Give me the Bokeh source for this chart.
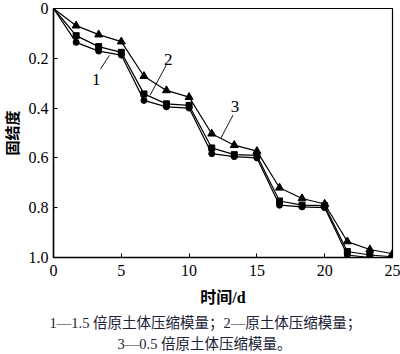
from bokeh.plotting import figure
from bokeh.models import Range1d, FixedTicker, Title
from bokeh.embed import file_html
from bokeh.resources import INLINE
from bokeh.core.properties import value

# Data
days = [0, 1.67, 3.33, 5, 6.67, 8.33, 10, 11.67, 13.33, 15, 16.67, 18.33, 20, 21.67, 23.33, 25]
s1_15x = [0, 0.136, 0.171, 0.187, 0.369, 0.395, 0.400, 0.583, 0.595, 0.600, 0.790, 0.797, 0.800, 0.990, 1.0, 1.0]
s2_1x = [0, 0.109, 0.153, 0.176, 0.343, 0.383, 0.389, 0.560, 0.587, 0.590, 0.773, 0.790, 0.792, 0.976, 0.990, 0.997]
s3_05x = [0, 0.069, 0.105, 0.133, 0.272, 0.329, 0.356, 0.503, 0.549, 0.573, 0.720, 0.763, 0.785, 0.936, 0.968, 0.985]

x_ticks = [0, 5, 10, 15, 20, 25]
y_ticks = [0, 0.2, 0.4, 0.6, 0.8, 1.0]
y_tick_labels = ["0", "0.2", "0.4", "0.6", "0.8", "1.0"]

x_label = "时间/d"
y_label = "固结度"
caption1 = "1—1.5 倍原土体压缩模量；2—原土体压缩模量；"
caption2 = "3—0.5 倍原土体压缩模量。"

# annotation callouts: (label, label x, label y, leader x0, y0, x1, y1)
callouts = [
    ("1", 3.16, 0.284, 3.46, 0.244, 4.12, 0.188),
    ("2", 8.46, 0.204, 8.31, 0.228, 7.13, 0.348),
    ("3", 13.38, 0.392, 13.24, 0.428, 12.35, 0.52),
]

SERIF = value("Liberation Serif")
MIXED = "'Liberation Serif', 'Noto Sans CJK SC'"

p = figure(width=400, height=354, output_backend="svg", toolbar_location=None,
           x_range=Range1d(0, 25), y_range=Range1d(1.0, 0),
           min_border_left=53, min_border_right=8, min_border_top=8, min_border_bottom=96)
p.background_fill_color = "white"
p.border_fill_color = "white"
p.outline_line_color = "black"
p.outline_line_width = 1.2
p.grid.visible = False

for ax in (p.xaxis[0], p.yaxis[0]):
    ax.axis_line_color = "black"
    ax.axis_line_width = 1.5
    ax.major_tick_line_color = "black"
    ax.major_tick_in = 4
    ax.major_tick_out = 0
    ax.minor_tick_line_color = None
    ax.major_label_text_font = "Liberation Serif"
    ax.major_label_text_font_size = "16px"
    ax.major_label_text_color = "black"
    ax.axis_label_text_color = "black"
    ax.axis_label_text_font = MIXED
    ax.axis_label_text_font_style = "bold"

p.xaxis.ticker = FixedTicker(ticks=x_ticks)
p.yaxis.ticker = FixedTicker(ticks=y_ticks)
p.yaxis.major_label_overrides = {t: s for t, s in zip(y_ticks, y_tick_labels)}
p.xaxis.major_label_standoff = 7
p.yaxis.major_label_standoff = 5
p.xaxis.axis_label = x_label
p.xaxis.axis_label_text_font_size = "16px"
p.xaxis.axis_label_standoff = 10
p.yaxis.axis_label = y_label
p.yaxis.axis_label_text_font_size = "15px"
p.yaxis.axis_label_standoff = 5

# series lines
for ys in (s1_15x, s2_1x, s3_05x):
    p.line(days, ys, line_color="black", line_width=1.2)

p.scatter(days[1:], s1_15x[1:], marker="circle", size=6, color="black")
p.scatter(days[1:], s2_1x[1:], marker="square", size=6, color="black")
p.scatter(days[1:], s3_05x[1:], marker="triangle", size=8, color="black")

# callouts
p.segment([c[3] for c in callouts], [c[4] for c in callouts],
          [c[5] for c in callouts], [c[6] for c in callouts],
          line_color="black", line_width=0.9)
p.text([c[1] for c in callouts], [c[2] for c in callouts], text=[c[0] for c in callouts],
       text_font=SERIF, text_font_size="17px", text_align="center",
       text_baseline="middle", text_color="black")

# captions below
spacer = Title(text=" ", text_font_size="1px", standoff=1)
t1 = Title(text=caption1, align="left", offset=-4, text_font=MIXED, text_font_size="14.5px",
           text_font_style="normal", text_color="#1a2236", standoff=0)
t2 = Title(text=caption2, align="left", offset=64, text_font=MIXED, text_font_size="14.5px",
           text_font_style="normal", text_color="#1a2236", standoff=6)
p.add_layout(spacer, "below")
p.add_layout(t1, "below")
p.add_layout(t2, "below")

open("out.html", "w").write(file_html(p, INLINE))
